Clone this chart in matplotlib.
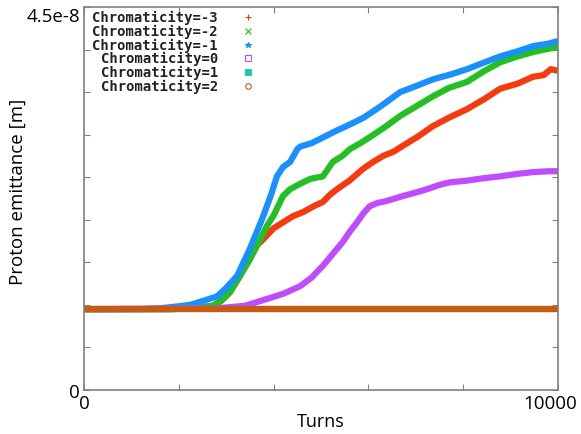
import matplotlib
matplotlib.use("Agg")
import matplotlib.pyplot as plt
from matplotlib.transforms import ScaledTranslation

plt.rcParams['font.family'] = ['Open Sans', 'DejaVu Sans']

# emittance en unités de 1e-8 m
turns_blue = [0, 1200, 1600, 1950, 2240, 2530, 2810, 3000, 3230, 3500, 3780, 3950, 4070, 4200,
              4350, 4500, 4560, 4800, 4980, 5300, 5610, 5900, 6250, 6670, 7000, 7360, 7750,
              8080, 8450, 8780, 9150, 9470, 9800, 10000]
emit_blue = [0.95, 0.95, 0.96, 0.98, 1.00, 1.05, 1.10, 1.20, 1.34, 1.66, 2.04, 2.30, 2.51, 2.62,
             2.68, 2.83, 2.86, 2.90, 2.95, 3.04, 3.12, 3.20, 3.33, 3.50, 3.57, 3.65, 3.71,
             3.77, 3.85, 3.92, 3.98, 4.04, 4.07, 4.10]

turns_green = [0, 1800, 2300, 2720, 2900, 3080, 3300, 3500, 3700, 3860, 4000, 4200, 4350, 4550,
               4770, 5040, 5250, 5450, 5610, 5830, 6030, 6350, 6670, 7000, 7360, 7700, 8080,
               8450, 8780, 9150, 9470, 9800, 10000]
emit_green = [0.95, 0.95, 0.96, 0.99, 1.05, 1.15, 1.35, 1.54, 1.75, 1.93, 2.05, 2.28, 2.36, 2.42,
              2.48, 2.51, 2.68, 2.75, 2.83, 2.90, 2.97, 3.09, 3.22, 3.33, 3.45, 3.55, 3.62,
              3.75, 3.85, 3.92, 3.97, 4.01, 4.03]

turns_red = [0, 1800, 2300, 2720, 2900, 3080, 3300, 3500, 3650, 3780, 4000, 4200, 4400, 4620,
             4850, 5040, 5200, 5340, 5600, 5890, 6100, 6310, 6530, 6730, 7050, 7360, 7700,
             8080, 8450, 8780, 9150, 9470, 9700, 9850, 10000]
emit_red = [0.95, 0.95, 0.96, 0.99, 1.05, 1.15, 1.35, 1.54, 1.70, 1.77, 1.90, 1.97, 2.04, 2.09,
            2.16, 2.21, 2.30, 2.36, 2.46, 2.60, 2.68, 2.75, 2.80, 2.87, 2.98, 3.10, 3.20,
            3.30, 3.42, 3.54, 3.60, 3.68, 3.70, 3.77, 3.75]

turns_purple = [0, 2810, 3400, 3860, 4200, 4560, 4800, 5040, 5250, 5460, 5620, 5760, 5900, 6030,
                6200, 6310, 6500, 6730, 7000, 7240, 7500, 7720, 8080, 8450, 8780, 9150, 9470,
                9800, 10000]
emit_purple = [0.95, 0.96, 0.99, 1.07, 1.13, 1.22, 1.32, 1.46, 1.60, 1.74, 1.87, 1.97, 2.08, 2.16,
               2.20, 2.21, 2.24, 2.28, 2.32, 2.36, 2.41, 2.44, 2.46, 2.49, 2.51, 2.54, 2.56,
               2.57, 2.57]

turns_flat = [0, 10000]
emit_flat = [0.95, 0.95]

labels = ['Chromaticity=-3', 'Chromaticity=-2', 'Chromaticity=-1',
          'Chromaticity=0', 'Chromaticity=1', 'Chromaticity=2']
colors = ['#f53a10', '#22c022', '#1a90ff', '#c04cff', '#20c8b0', '#c85a14']
markers = ['+', 'x', '*', 's', 's', 'o']
filled = [True, True, True, False, True, False]

series = [(turns_red, emit_red), (turns_green, emit_green), (turns_blue, emit_blue),
          (turns_purple, emit_purple), (turns_flat, emit_flat), (turns_flat, emit_flat)]

yticks = [0, 0.5, 1, 1.5, 2, 2.5, 3, 3.5, 4, 4.5]
ytick_labels = ['0', '', '', '', '', '', '', '', '', '4.5e-8']
xticks = [0, 2000, 4000, 6000, 8000, 10000]
xtick_labels = ['0', '', '', '', '', '10000']

fig = plt.figure(figsize=(5.81, 4.35), dpi=100)
ax = fig.add_axes([84/581, 1-391/435, 474/581, 383/435])

for (t, e), c in zip(series, colors):
    ax.plot(t, e, color=c, lw=4.5, solid_capstyle='butt')

ax.set_xlim(0, 10000)
ax.set_ylim(0, 4.5)
ax.set_xticks(xticks)
ax.set_xticklabels(xtick_labels, fontsize=13.5)
ax.set_yticks(yticks)
ax.set_yticklabels(ytick_labels, fontsize=13.5)
ax.tick_params(direction='in', length=4, color='#808080', top=True, right=True, pad=3)
for s in ax.spines.values():
    s.set_color('#808080')
    s.set_linewidth(1.2)

# décalages des étiquettes extrêmes comme sur l'original
lbl = ax.get_xticklabels()[-1]
lbl.set_transform(lbl.get_transform() + ScaledTranslation(-8/100, 0, fig.dpi_scale_trans))
ax.get_yticklabels()[-1].set_verticalalignment('top')

ax.set_xlabel('Turns', fontsize=13, labelpad=0)
ax.set_ylabel('Proton emittance [m]', fontsize=13.5)
ax.yaxis.set_label_coords((27 - 84) / 474, 0.52)

# légende façon gnuplot : texte aligné à droite, symbole à côté
for i, (lab, c, m, f) in enumerate(zip(labels, colors, markers, filled)):
    yy = 1 - (10 + 13.8 * i) / 383
    ax.text((218 - 84) / 474, yy, lab, transform=ax.transAxes, ha='right', va='center',
            family='DejaVu Sans Mono', fontweight='bold', fontsize=10, color='#222222')
    ax.plot([(248 - 84) / 474], [yy], transform=ax.transAxes, marker=m, ms=4,
            color=c, mfc=c if f else 'none', mew=0.8, ls='none', clip_on=False)

fig.savefig('out.png', dpi=100)
